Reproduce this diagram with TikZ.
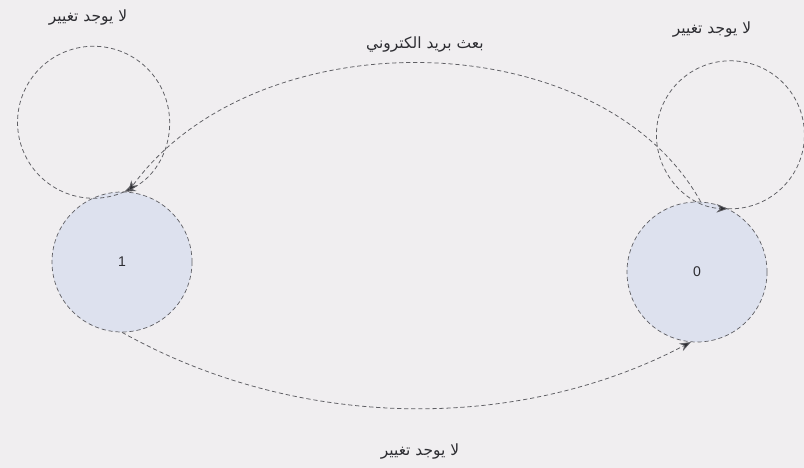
\documentclass[tikz,border=0pt]{standalone}
\usepackage{fontspec}
\setmainfont{Liberation Sans}
\newfontfamily\arabicfont[Script=Arabic]{DejaVu Sans}
\TeXXeTstate=1
\usetikzlibrary{arrows.meta,positioning}
\definecolor{paper}{RGB}{240,238,240}
\definecolor{statefill}{RGB}{221,225,238}
\definecolor{linegray}{RGB}{95,95,100}
\definecolor{inkgray}{RGB}{45,45,50}

\begin{document}
\begin{tikzpicture}[
    state/.style={circle, draw=linegray, densely dashed, line width=0.5pt, fill=statefill,
        minimum size=3.5cm, inner sep=0pt, font=\normalsize, text=inkgray},
    trans/.style={draw=linegray, densely dashed, line width=0.55pt,
        -{Stealth[length=8pt,width=6pt,fill=inkgray]}},
    lbl/.style={font=\arabicfont\fontsize{11}{13}\selectfont, text=inkgray}]

\fill[paper] (0,0) rectangle (20.1,11.7);
\useasboundingbox (0,0) rectangle (20.1,11.7);

% States
\node[state] (s1) at (3.05,5.15) {1};
\node[state] (s0) at (17.425,4.9) {0};

% Self loops
\draw[trans] (s1.88) arc[start angle=-66, end angle=-426, radius=1.9];
\draw[trans] (s0.64) arc[start angle=-92, end angle=268, radius=1.85];

% Transitions between the states
\draw[trans] (s0.87) .. controls +(-2.5,4.5) and +(3.2,4.4) .. (s1.85)
    node[lbl, pos=0.5, above=4pt] (mail) {\beginR بعث بريد الكتروني\endR};
\draw[trans] (s1.south) .. controls (7.5,0.9) and (13,0.9) .. (s0.265);

% Loop labels
\node[lbl] (nochange1) at (2.2,11.25) {\beginR لا يوجد تغيير\endR};
\node[lbl] (nochange0) at (17.8,10.95) {\beginR لا يوجد تغيير\endR};
\node[lbl] (nochange10) at (10.5,0.4) {\beginR لا يوجد تغيير\endR};

\end{tikzpicture}
\end{document}
